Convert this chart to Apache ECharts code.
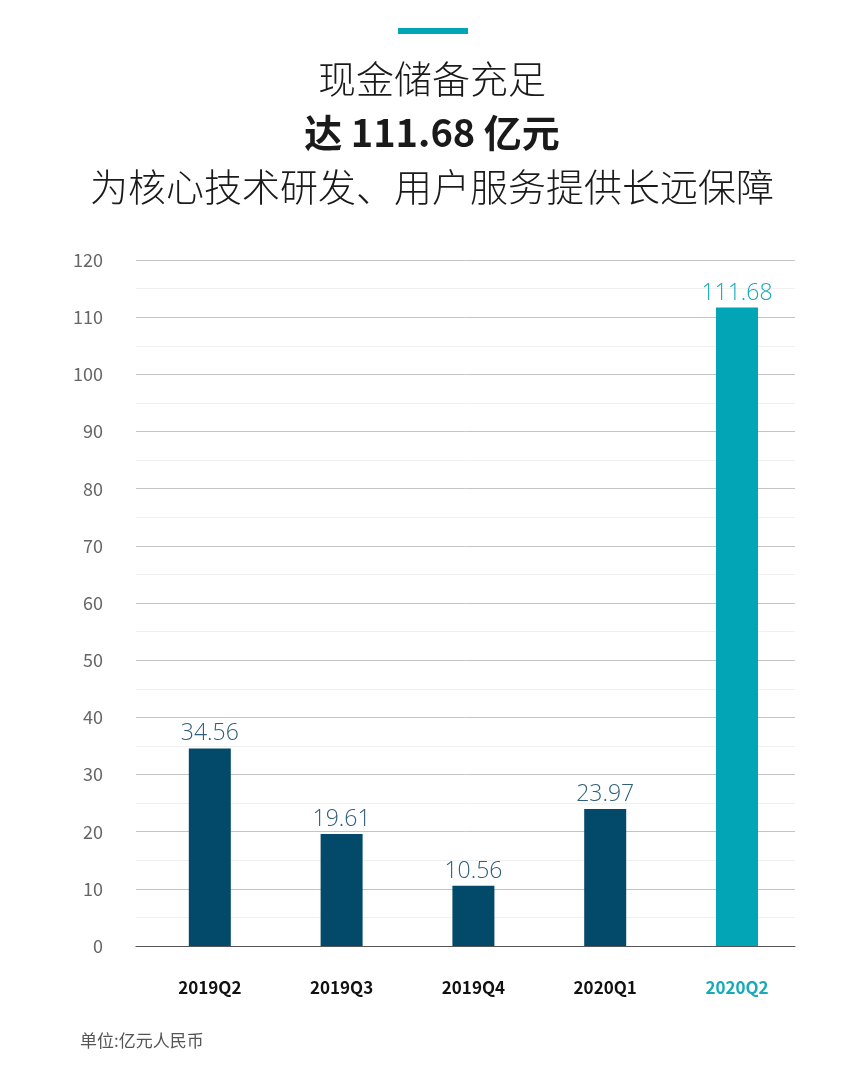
<!DOCTYPE html>
<html>
<head>
<meta charset="utf-8">
<script src="https://cdn.jsdelivr.net/npm/echarts@6/dist/echarts.min.js"></script>
<style>
  html, body { margin: 0; padding: 0; background: #fff; }
  #chart { width: 865px; height: 1069px; }
</style>
</head>
<body>
<div id="chart"></div>
<script>
var quarters = ['2019Q2', '2019Q3', '2019Q4', '2020Q1', '2020Q2'];
var cash = [34.56, 19.61, 10.56, 23.97, 111.68];
var yTicks = [0, 10, 20, 30, 40, 50, 60, 70, 80, 90, 100, 110, 120];

var font = '"Noto Sans CJK SC", "Noto Sans", sans-serif';
var dark = '#02496a';
var teal = '#01a5b6';

var chart = echarts.init(document.getElementById('chart'));

var points = cash.map(function (v, i) {
    var last = i === cash.length - 1;
    return {
        value: [i, v],
        itemStyle: { color: last ? teal : dark },
        label: { color: last ? '#18aab9' : '#2f5f7c' }
    };
});

function titleLine(text, y, weight) {
    return {
        type: 'text',
        x: 432, y: y,
        style: {
            text: text,
            font: weight + ' 38px ' + font,
            fill: '#1a1a1a',
            textAlign: 'center',
            textVerticalAlign: 'middle'
        }
    };
}

var option = {
    backgroundColor: '#fff',
    animation: false,
    graphic: [
        { type: 'rect', shape: { x: 398, y: 28, width: 70, height: 6 }, style: { fill: teal } },
        titleLine('现金储备充足', 79, 300),
        titleLine('达 111.68 亿元', 133, 'bold'),
        titleLine('为核心技术研发、用户服务提供长远保障', 187, 300),
        { type: 'text', x: 80, y: 1041, style: { text: '单位:亿元人民币', font: '17px ' + font, fill: '#555', textVerticalAlign: 'middle' } }
    ],
    grid: { left: 136, right: 70, top: 260, bottom: 123 },
    xAxis: {
        type: 'value',
        min: -0.56,
        max: 4.44,
        splitLine: { show: false },
        axisLine: { show: true, onZero: false, lineStyle: { color: '#555', width: 1.2 } },
        axisTick: { show: false },
        axisLabel: {
            customValues: [0, 1, 2, 3, 4],
            margin: 33,
            formatter: function (v) {
                var i = Math.round(v);
                return i === quarters.length - 1 ? '{hi|' + quarters[i] + '}' : quarters[i];
            },
            fontFamily: font,
            fontWeight: 'bold',
            fontSize: 17,
            color: '#111',
            rich: { hi: { color: '#18aab9', fontWeight: 'bold', fontSize: 17, fontFamily: font } }
        }
    },
    yAxis: {
        type: 'value',
        min: yTicks[0],
        max: yTicks[yTicks.length - 1],
        interval: 10,
        axisLine: { show: false },
        axisTick: { show: false },
        axisLabel: { margin: 33, fontSize: 18, color: '#666', fontFamily: font },
        splitLine: { lineStyle: { color: '#c4c4c4', width: 1 } },
        minorTick: { show: false, splitNumber: 2 },
        minorSplitLine: { show: true, lineStyle: { color: '#f0f0f0', width: 1 } }
    },
    series: [{
        type: 'bar',
        barWidth: 42,
        data: points,
        label: {
            show: true,
            position: 'top',
            distance: 3,
            fontSize: 23,
            fontFamily: '"Open Sans", "Noto Sans", sans-serif',
            fontWeight: 300,
            formatter: function (p) { return p.value[1].toFixed(2); }
        }
    }]
};

chart.setOption(option, true);
window.onresize = chart.resize;
</script>
</body>
</html>
